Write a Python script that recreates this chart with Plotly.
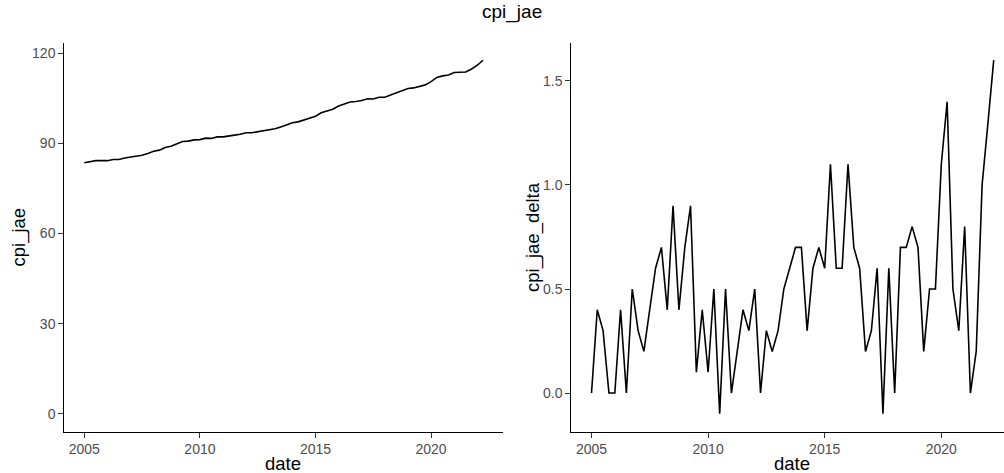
import pandas as pd
import plotly.graph_objects as go

# Quarterly observations, 2005Q1 .. 2022Q2
dates = pd.date_range("2005-01-01", periods=70, freq="QS")

cpi_jae = [
    83.5, 83.9, 84.2, 84.2, 84.2, 84.6, 84.6, 85.1, 85.4, 85.6,
    86.0, 86.6, 87.3, 87.7, 88.6, 89.0, 89.7, 90.6, 90.7, 91.1,
    91.2, 91.7, 91.6, 92.1, 92.1, 92.3, 92.7, 93.0, 93.5, 93.5,
    93.8, 94.0, 94.3, 94.8, 95.4, 96.1, 96.8, 97.1, 97.7, 98.4,
    99.0, 100.1, 100.7, 101.3, 102.4, 103.1, 103.7, 103.9, 104.2, 104.8,
    104.7, 105.3, 105.3, 106.0, 106.7, 107.5, 108.2, 108.4, 108.9, 109.4,
    110.5, 111.9, 112.4, 112.7, 113.5, 113.5, 113.7, 114.7, 116.0, 117.6,
]

cpi_jae_delta = [
    0.0, 0.4, 0.3, 0.0, 0.0, 0.4, 0.0, 0.5, 0.3, 0.2,
    0.4, 0.6, 0.7, 0.4, 0.9, 0.4, 0.7, 0.9, 0.1, 0.4,
    0.1, 0.5, -0.1, 0.5, 0.0, 0.2, 0.4, 0.3, 0.5, 0.0,
    0.3, 0.2, 0.3, 0.5, 0.6, 0.7, 0.7, 0.3, 0.6, 0.7,
    0.6, 1.1, 0.6, 0.6, 1.1, 0.7, 0.6, 0.2, 0.3, 0.6,
    -0.1, 0.6, 0.0, 0.7, 0.7, 0.8, 0.7, 0.2, 0.5, 0.5,
    1.1, 1.4, 0.5, 0.3, 0.8, 0.0, 0.2, 1.0, 1.3, 1.6,
]

year_ticks = ["2005-01-01", "2010-01-01", "2015-01-01", "2020-01-01"]
year_labels = ["2005", "2010", "2015", "2020"]
left_y_ticks = [0, 30, 60, 90, 120]
right_y_ticks = [0.0, 0.5, 1.0, 1.5]
right_y_labels = ["0.0", "0.5", "1.0", "1.5"]

W, H = 1004, 473
FONT = "Liberation Sans, Arial, sans-serif"
TICK_FONT = dict(family=FONT, size=14, color="#4d4d4d")

fig = go.Figure()
fig.add_trace(go.Scatter(x=dates, y=cpi_jae, mode="lines",
                         line=dict(color="black", width=1.6),
                         xaxis="x", yaxis="y", showlegend=False))
fig.add_trace(go.Scatter(x=dates, y=cpi_jae_delta, mode="lines",
                         line=dict(color="black", width=1.6),
                         xaxis="x2", yaxis="y2", showlegend=False))

y_dom = [1 - 431.5 / H, 1 - 42.5 / H]

axis_common = dict(
    showline=True, linecolor="black", linewidth=1.3,
    ticks="outside", ticklen=5, tickwidth=1.1, tickcolor="#333333",
    showgrid=False, zeroline=False, tickfont=TICK_FONT,
)

fig.update_layout(
    width=W, height=H,
    margin=dict(l=0, r=0, t=0, b=0),
    paper_bgcolor="white", plot_bgcolor="white",
    xaxis=dict(domain=[64.4 / W, 503 / W], anchor="y", type="date",
               range=["2004-02-21", "2023-02-10"],
               tickvals=year_ticks, ticktext=year_labels, **axis_common),
    yaxis=dict(domain=y_dom, anchor="x", range=[-5.88, 123.5],
               tickvals=left_y_ticks, **axis_common),
    xaxis2=dict(domain=[571.4 / W, 1.0], anchor="y2", type="date",
                range=["2004-02-21", "2022-09-09"],
                tickvals=year_ticks, ticktext=year_labels, **axis_common),
    yaxis2=dict(domain=y_dom, anchor="x2", range=[-0.185, 1.685],
                tickvals=right_y_ticks, ticktext=right_y_labels, **axis_common),
)

title_font = dict(family=FONT, size=18.5, color="black")
annotations = [
    dict(text="cpi_jae", x=512 / W, y=1 - 12 / H, xref="paper", yref="paper",
         showarrow=False, xanchor="center", yanchor="middle",
         font=dict(family=FONT, size=19, color="black")),
    dict(text="date", x=283 / W, y=1 - 463 / H, xref="paper", yref="paper",
         showarrow=False, xanchor="center", yanchor="middle", font=title_font),
    dict(text="date", x=792 / W, y=1 - 463 / H, xref="paper", yref="paper",
         showarrow=False, xanchor="center", yanchor="middle", font=title_font),
    dict(text="cpi_jae", x=18.5 / W, y=1 - 237 / H, xref="paper", yref="paper",
         showarrow=False, xanchor="center", yanchor="middle", textangle=-90,
         font=title_font),
    dict(text="cpi_jae_delta", x=533 / W, y=1 - 237 / H, xref="paper", yref="paper",
         showarrow=False, xanchor="center", yanchor="middle", textangle=-90,
         font=title_font),
]
fig.update_layout(annotations=annotations)

fig.write_html("out.html")
